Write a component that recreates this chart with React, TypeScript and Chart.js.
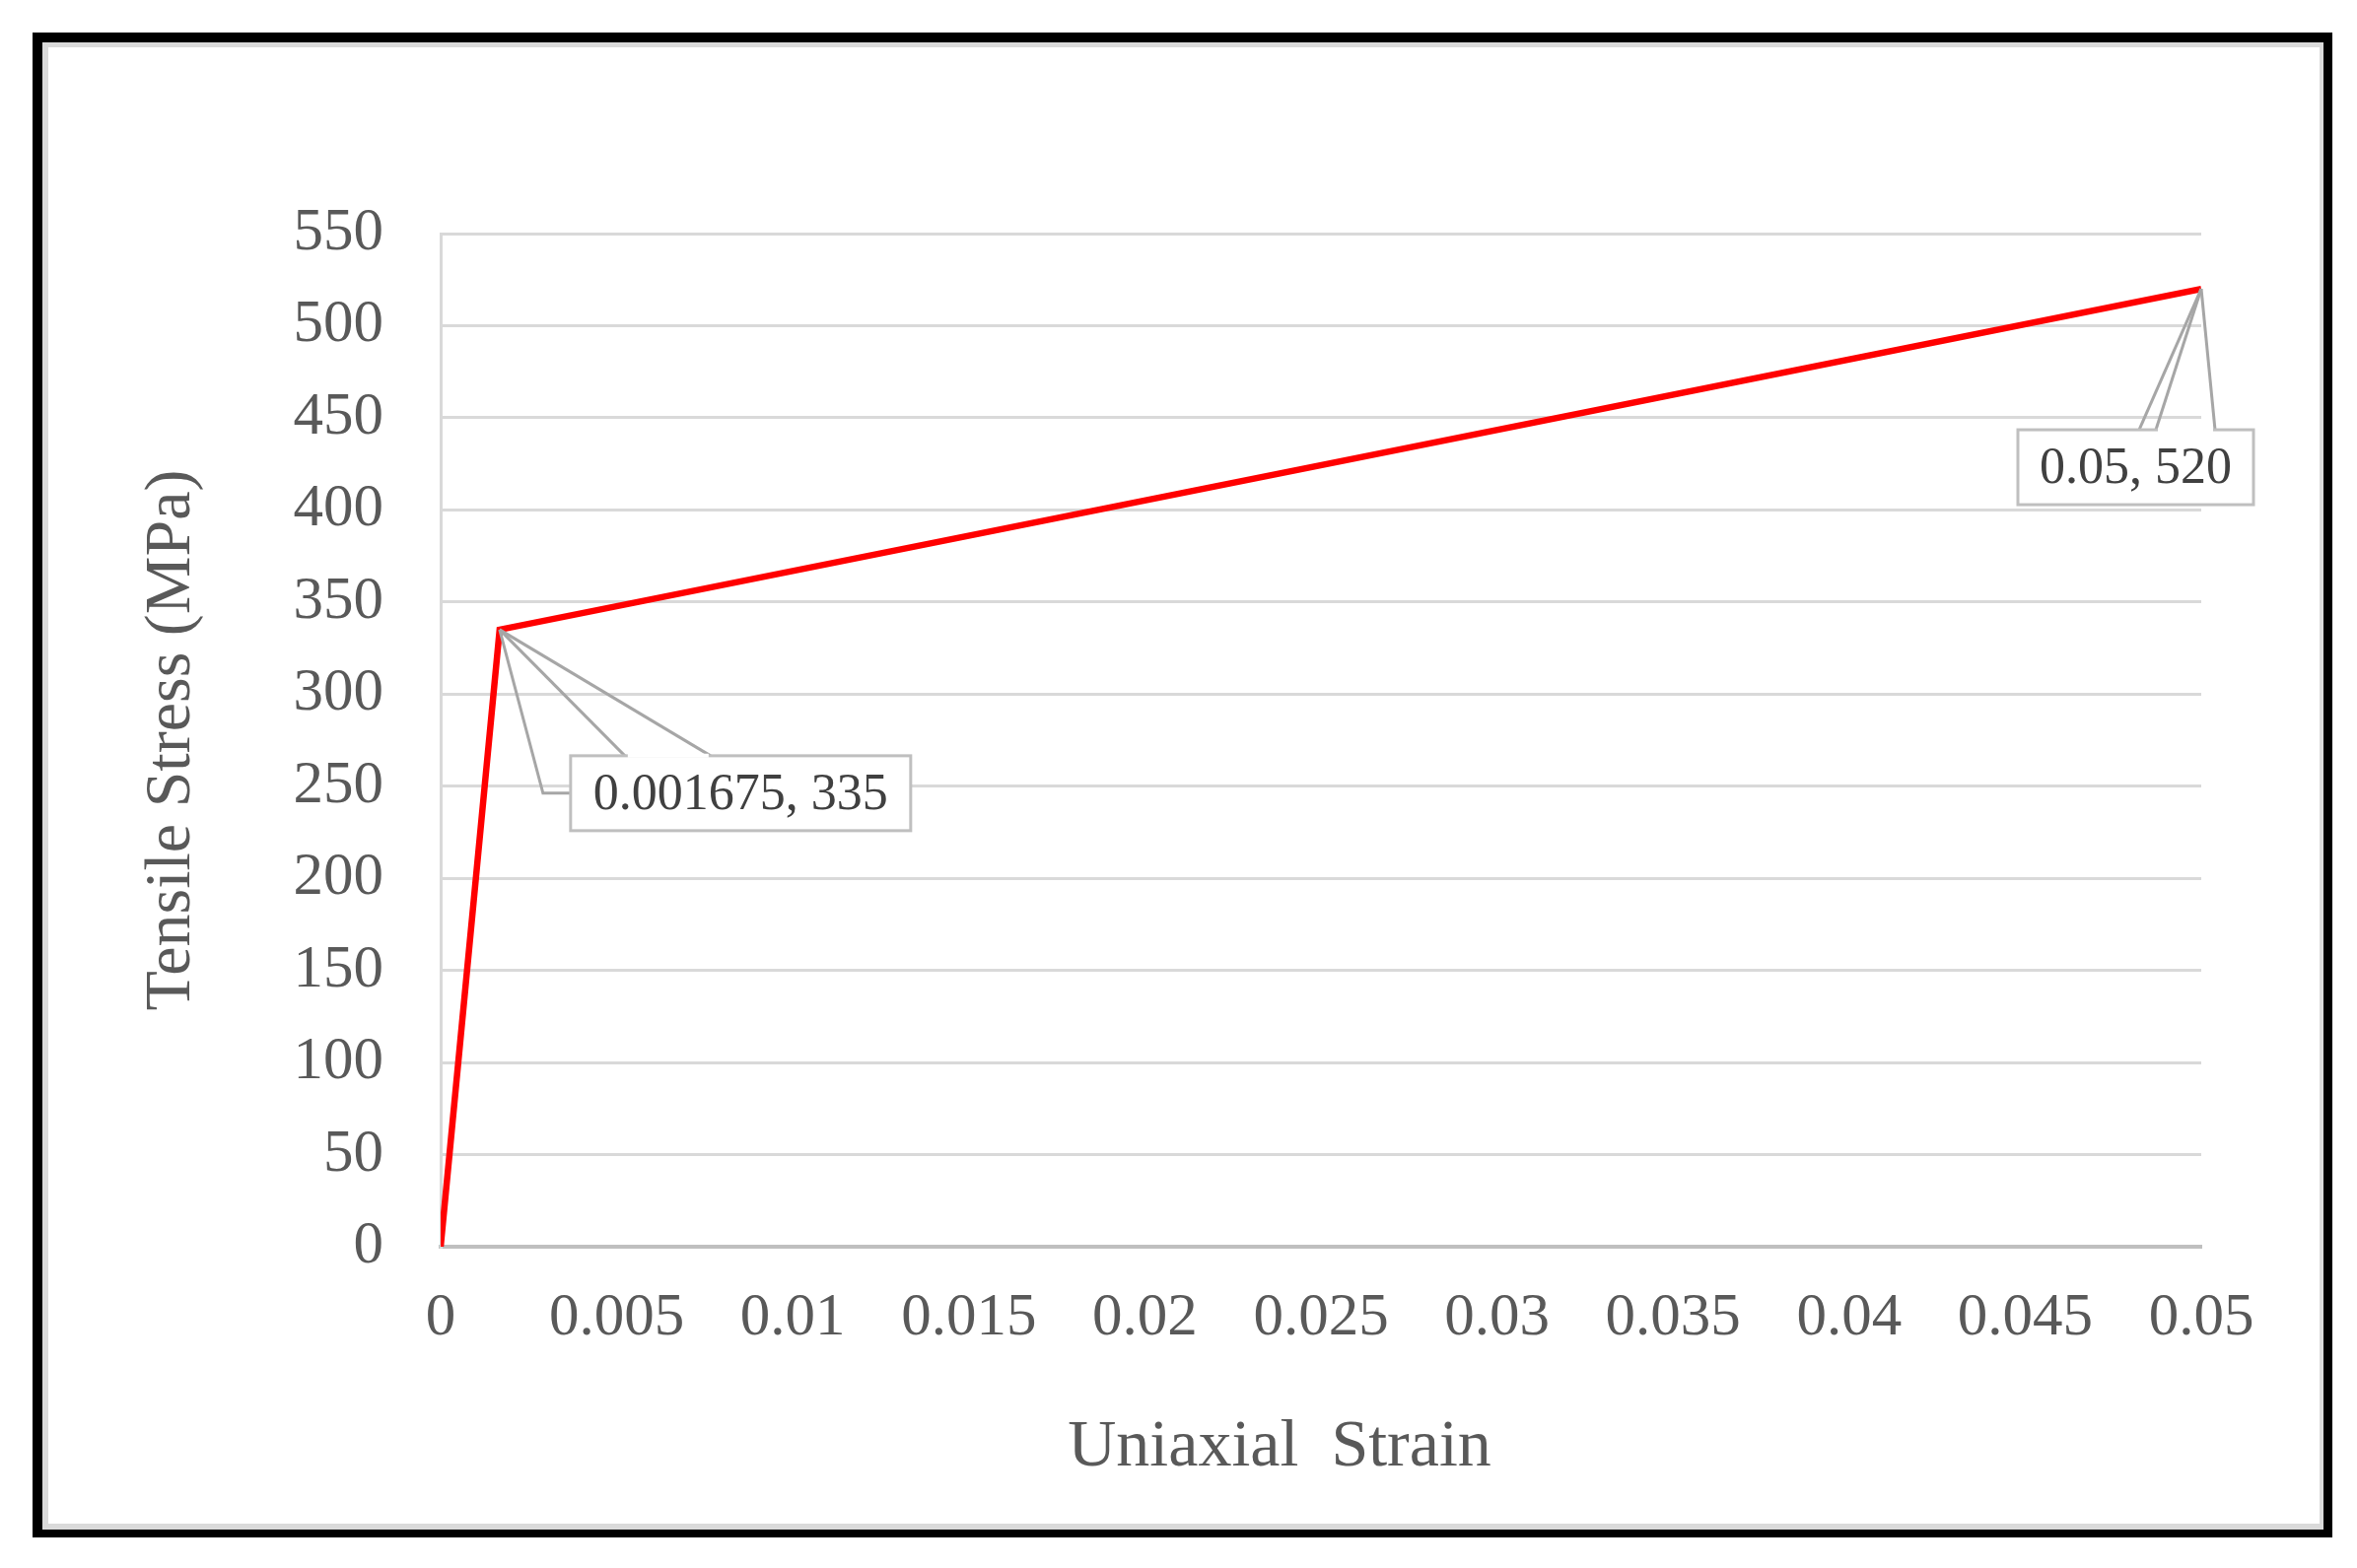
import React, { useEffect, useRef } from "react";
import { Chart, registerables } from "chart.js";

Chart.register(...registerables);

// ---- data ----
const strain = [0, 0.001675, 0.05];
const stress = [0, 335, 520];
const xTickLabels = ["0", "0.005", "0.01", "0.015", "0.02", "0.025", "0.03", "0.035", "0.04", "0.045", "0.05"];
const yTickLabels = ["0", "50", "100", "150", "200", "250", "300", "350", "400", "450", "500", "550"];
const labeledPointIndexes = [1, 2];
const xTitle = "Uniaxial Strain";
const yTitle = "Tensile Stress (MPa)";

// ---- callout layout (offsets relative to the labelled point, in px) ----
const calloutLayouts = [
  {
    box: { dx: 72, dy: 128, w: 345, h: 76 },
    legs: [
      [[44, 166], [72, 166]],
      [[127, 128]],
      [[214, 128]],
    ],
    gap: [130, 212],
  },
  {
    box: { dx: -186, dy: 143, w: 239, h: 76 },
    legs: [[[-63, 143]], [[-46, 143]], [[14, 143]]],
    gap: [-44, 12],
  },
];

const W = 2391;
const H = 1591;
const FONT = "'Liberation Serif', 'Times New Roman', serif";

const framePlugin = {
  id: "frame",
  beforeDraw(chart: any) {
    const ctx = chart.ctx;
    ctx.save();
    ctx.fillStyle = "#ffffff";
    ctx.fillRect(0, 0, W, H);
    ctx.fillStyle = "#000000";
    ctx.fillRect(33, 33, 2333, 1527);
    ctx.fillStyle = "#dadada";
    ctx.fillRect(43, 43, 2314, 1509);
    ctx.fillStyle = "#ffffff";
    ctx.fillRect(49, 48, 2304, 1498);
    ctx.restore();
  },
};

const xTitlePlugin = {
  id: "xTitle",
  afterDraw(chart: any) {
    const ctx = chart.ctx;
    const xs = chart.scales.x;
    ctx.save();
    ctx.fillStyle = "#595959";
    ctx.font = `68px ${FONT}`;
    try {
      (ctx as any).wordSpacing = "16px";
    } catch (e) {}
    ctx.textAlign = "center";
    ctx.textBaseline = "middle";
    const cx = xs.left + (xs.right - xs.left) * 0.4765;
    ctx.fillText(xTitle, cx, xs.bottom - 38);
    ctx.restore();
  },
};

const calloutPlugin = {
  id: "callouts",
  afterDatasetsDraw(chart: any) {
    const ctx = chart.ctx;
    const meta = chart.getDatasetMeta(0);
    ctx.save();
    labeledPointIndexes.forEach((idx, k) => {
      const el = meta.data[idx];
      if (!el) return;
      const px = el.x;
      const py = el.y;
      const lay = calloutLayouts[k];
      ctx.strokeStyle = "#a6a6a6";
      ctx.lineWidth = 3;
      lay.legs.forEach((leg: number[][]) => {
        ctx.beginPath();
        ctx.moveTo(px, py);
        leg.forEach((p) => ctx.lineTo(px + p[0], py + p[1]));
        ctx.stroke();
      });
      const bx = px + lay.box.dx;
      const by = py + lay.box.dy;
      ctx.fillStyle = "#ffffff";
      ctx.fillRect(bx, by, lay.box.w, lay.box.h);
      ctx.strokeStyle = "#bfbfbf";
      ctx.lineWidth = 3;
      ctx.strokeRect(bx, by, lay.box.w, lay.box.h);
      // opening of the wedge on the top edge
      ctx.strokeStyle = "#ffffff";
      ctx.lineWidth = 4;
      ctx.beginPath();
      ctx.moveTo(px + lay.gap[0], by);
      ctx.lineTo(px + lay.gap[1], by);
      ctx.stroke();
      ctx.fillStyle = "#404040";
      ctx.font = `52px ${FONT}`;
      ctx.textAlign = "center";
      ctx.textBaseline = "middle";
      ctx.fillText(`${strain[idx]}, ${stress[idx]}`, bx + lay.box.w / 2, by + lay.box.h / 2 + 2);
    });
    ctx.restore();
  },
};

export default function App() {
  const ref = useRef<HTMLCanvasElement | null>(null);

  useEffect(() => {
    if (!ref.current) return;
    const chart = new Chart(ref.current, {
      type: "scatter",
      data: {
        datasets: [
          {
            data: strain.map((x, i) => ({ x, y: stress[i] })),
            showLine: true,
            borderColor: "#ff0000",
            backgroundColor: "#ff0000",
            borderWidth: 6.5,
            pointRadius: 0,
            tension: 0,
          },
        ],
      },
      options: {
        responsive: false,
        animation: false,
        devicePixelRatio: 1,
        layout: { padding: { left: 135, right: 158, top: 237, bottom: 84 } },
        plugins: {
          legend: { display: false },
          tooltip: { enabled: false },
          title: { display: false },
        },
        scales: {
          x: {
            type: "linear",
            min: 0,
            max: 0.05,
            afterFit: (s: any) => {
              s.height = 242;
            },
            ticks: {
              stepSize: 0.005,
              padding: 36,
              maxRotation: 0,
              autoSkip: false,
              color: "#595959",
              font: { family: FONT, size: 61 },
              callback: (_v: any, i: number) => xTickLabels[i],
            },
            grid: { display: false, drawTicks: false },
            border: { display: true, color: "#bfbfbf", width: 4 },
            title: { display: false },
          },
          y: {
            type: "linear",
            min: 0,
            max: 550,
            afterFit: (s: any) => {
              s.width = 312;
            },
            ticks: {
              stepSize: 50,
              padding: 58,
              autoSkip: false,
              color: "#595959",
              font: { family: FONT, size: 61 },
              callback: (_v: any, i: number) => yTickLabels[i],
            },
            grid: { display: true, color: "#d9d9d9", lineWidth: 3, drawTicks: false },
            border: { display: true, color: "#d9d9d9", width: 3 },
            title: {
              display: true,
              text: yTitle,
              color: "#595959",
              font: { family: FONT, size: 66 },
              padding: { top: 0, bottom: 0 },
            },
          },
        },
      },
      plugins: [framePlugin, calloutPlugin, xTitlePlugin],
    });
    return () => chart.destroy();
  }, []);

  return (
    <div style={{ position: "fixed", left: 0, top: 0, width: W, height: H, background: "#fff" }}>
      <canvas ref={ref} width={W} height={H} style={{ width: W, height: H, display: "block" }} />
    </div>
  );
}
